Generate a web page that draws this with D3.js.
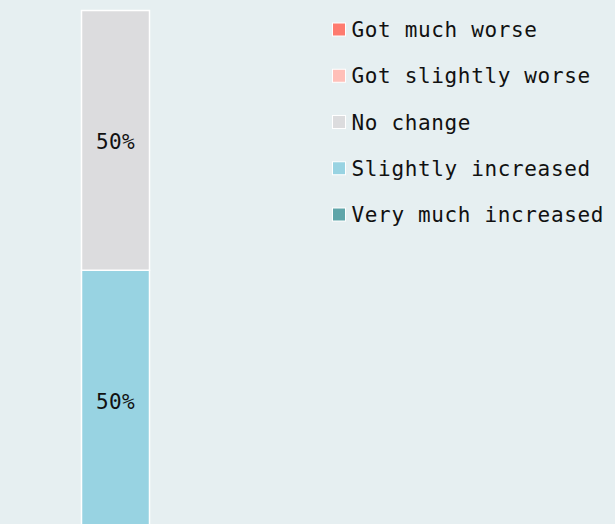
<!DOCTYPE html>
<html>
<head>
<meta charset="utf-8">
<script src="https://cdn.jsdelivr.net/npm/d3@7"></script>
<style>
  html, body { margin: 0; padding: 0; background: #e6eff1; }
  svg { display: block; }
  text { font-family: "DejaVu Sans Mono", "Liberation Mono", monospace; }
</style>
</head>
<body>
<svg id="chart" width="615" height="524"></svg>
<script>
// answer categories, top of legend first
var categories = ["Got much worse", "Got slightly worse", "No change", "Slightly increased", "Very much increased"]
var colors = ["#fe7b6f", "#ffbfb8", "#dcdcde", "#98d3e2", "#5fa5a9"]
// share of answers in percent
var values = [0, 0, 50, 50, 0]

var svg = d3.select("#chart")
var W = 615, H = 524

svg.append("rect").attr("width", W).attr("height", H).attr("fill", "#e6eff1")

// stack from the bottom: increased at the bottom, worse at the top
var row = {}
categories.forEach(function(c, i) { row[c] = values[i] })
var stack = d3.stack().keys(categories.slice().reverse())
var series = stack([row])

var x = d3.scaleBand().domain(["all"]).range([81.5, 149.5]).padding(0)
var y = d3.scaleLinear().domain([0, 100]).range([530, 10.5])

var colorOf = d3.scaleOrdinal().domain(categories).range(colors)

var bars = svg.append("g")
bars.selectAll("rect")
    .data(series)
    .join("rect")
      .attr("x", x("all"))
      .attr("width", x.bandwidth())
      .attr("y", function(d) { return y(d[0][1]) })
      .attr("height", function(d) { return y(d[0][0]) - y(d[0][1]) })
      .attr("fill", function(d) { return colorOf(d.key) })
      .style("stroke", "white")
      .style("stroke-width", 1.5)

bars.selectAll("text")
    .data(series.filter(function(d) { return d[0][1] - d[0][0] > 0 }))
    .join("text")
      .attr("x", x("all") + x.bandwidth() / 2)
      .attr("y", function(d) { return (y(d[0][0]) + y(d[0][1])) / 2 + 1.5 })
      .attr("dy", "0.36em")
      .attr("text-anchor", "middle")
      .attr("font-size", "21px")
      .style("letter-spacing", "0.3px")
      .style("fill", "#111")
      .text(function(d) { return Math.round(d[0][1] - d[0][0]) + "%" })

// legend
var ly = d3.scalePoint().domain(categories).range([29.5, 214.5])
var legend = svg.append("g")
var item = legend.selectAll("g")
    .data(categories)
    .join("g")
      .attr("transform", function(d) { return "translate(332," + ly(d) + ")" })

item.append("rect")
    .attr("x", 0.5)
    .attr("y", -6.5)
    .attr("width", 13)
    .attr("height", 13)
    .attr("fill", function(d) { return colorOf(d) })
    .style("stroke", "white")
    .style("stroke-width", 1)

item.append("text")
    .attr("x", 19.5)
    .attr("y", 0)
    .attr("dy", "0.36em")
    .attr("font-size", "21px")
    .style("letter-spacing", "0.65px")
    .style("fill", "#111")
    .text(function(d) { return d })
</script>
</body>
</html>
